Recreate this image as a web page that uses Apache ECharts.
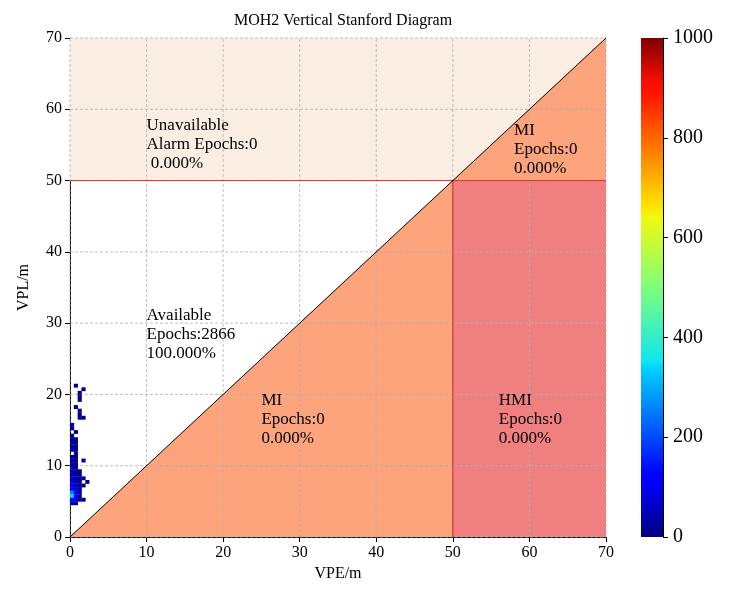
<!DOCTYPE html><html><head><meta charset="utf-8"><script src="https://cdn.jsdelivr.net/npm/echarts@6/dist/echarts.min.js"></script>
<style>body{margin:0;background:#fff}#c{width:737px;height:606px}</style></head><body><div id="c"></div><script>
const title = 'MOH2 Vertical Stanford Diagram';
const axisTicks = [0,10,20,30,40,50,60,70];
const colorTicks = [0,200,400,600,800,1000];
const alarmLimit = 50;
// [VPE bin start, VPL bin start, epoch count] (0.5 m bins)
const cells = [
 [0.5,21,5],[1.5,20.5,5],[1,20,8],[1,19.5,6],[1,19,5],[0.5,18,6],[1,17.5,5],[1,17,6],[1,16.5,8],[1.5,16.5,5],
 [0,15.5,15],[0,15,15],[0.5,14.5,8],[0,14,10],[0,13.5,20],[0.5,13.5,8],[0,13,20],[0.5,13,10],[0,12.5,25],[0.5,12.5,10],[0,12,20],[0.5,12,8],
 [0.5,11.5,8],[0,11,25],[0.5,11,10],[0,10.5,30],[0.5,10.5,8],[1.5,10.5,8],[0,10,35],[0.5,10,12],[0,9.5,40],[0.5,9.5,15],
 [0,9,45],[0.5,9,18],[1,9,8],[0,8.5,50],[0.5,8.5,20],[1,8.5,10],[0,8,60],[0.5,8,25],[1,8,12],[1.5,8,8],
 [0,7.5,70],[0.5,7.5,35],[1,7.5,15],[2,7.5,8],[0,7,90],[0.5,7,50],[1,7,18],[1.5,7,10],[0,6.5,120],[0.5,6.5,70],[1,6.5,20],
 [0,6,260],[0.5,6,130],[1,6,25],[0,5.5,300],[0.5,5.5,150],[1,5.5,20],[0,5,160],[0.5,5,80],[1,5,12],[1.5,5,8],
 [0,4.5,40],[0.5,4.5,20]
];
const jet = [[0,'#00007f'],[0.11,'#0000ff'],[0.125,'#0000ff'],[0.34,'#00d4ff'],[0.35,'#0ce6f0'],[0.5,'#7dff7a'],[0.64,'#f0f90e'],[0.66,'#ffe600'],[0.89,'#ff1300'],[0.91,'#fa0f00'],[1,'#7f0000']];
const F = 'Liberation Serif';
const chart = echarts.init(document.getElementById('c'));
const ax = (name, gap) => ({type:'value', min:0, max:70, interval:10, name, nameLocation:'middle', nameGap:gap,
  nameTextStyle:{fontFamily:F,fontSize:16,color:'#000'}, axisLine:{show:true,lineStyle:{color:'#000'}},
  axisTick:{show:true,length:5,lineStyle:{color:'#000'}},
  axisLabel:{fontFamily:F,fontSize:16,color:'#000'}, splitLine:{show:false}});
const txt = (x,y,s)=>({value:[x,y],s:s});
const poly = (pts,fill)=>(p,api)=>({type:'polygon',shape:{points:pts.map(q=>api.coord(q))},style:{fill:fill}});
chart.setOption({
 title:{text:title,left:338,top:8,textAlign:'center',textStyle:{fontFamily:F,fontSize:16,fontWeight:'normal',color:'#000'}},
 grid:[{left:70,right:131,top:38,bottom:69},{left:641,width:22,top:38,bottom:69}],
 xAxis:[ax('VPE/m',28),{gridIndex:1,type:'category',data:[''],show:false}],
 yAxis:[ax('VPL/m',38),{gridIndex:1,type:'value',min:0,max:1000,interval:200,position:'right',
   axisLine:{show:true,lineStyle:{color:'#000'}},axisTick:{show:true,length:5,lineStyle:{color:'#000'}},
   axisLabel:{fontFamily:F,fontSize:20,color:'#000',margin:10,formatter:v=>String(v)},splitLine:{show:false}}],
 visualMap:{show:false,seriesIndex:3,dimension:2,min:0,max:1000,inRange:{color:jet.map(c=>c[1])}},
 series:[
  {type:'custom',data:[0],z:1,silent:true,renderItem:(p,api)=>({type:'group',children:[
    poly([[0,alarmLimit],[70,alarmLimit],[70,70],[0,70]],'#faeee3')(p,api),
    poly([[0,0],[70,0],[70,70]],'#fda47c')(p,api),
    poly([[alarmLimit,0],[70,0],[70,alarmLimit],[alarmLimit,alarmLimit]],'#f08080')(p,api)]})},
  {type:'custom',data:axisTicks,z:2,silent:true,renderItem:(p,api)=>{const v=api.value(0);
    const a=api.coord([v,0]),b=api.coord([v,70]),c=api.coord([0,v]),d=api.coord([70,v]);
    const st={stroke:'#b0b0b0',lineWidth:0.8,lineDash:[3,2]};
    return {type:'group',children:[{type:'line',shape:{x1:a[0],y1:a[1],x2:b[0],y2:b[1]},style:st},{type:'line',shape:{x1:c[0],y1:c[1],x2:d[0],y2:d[1]},style:st}]};}},
  {type:'custom',data:[0],z:3,silent:true,renderItem:(p,api)=>{const o=api.coord([0,0]),t=api.coord([70,70]),l=api.coord([0,alarmLimit]),r=api.coord([70,alarmLimit]),v=api.coord([alarmLimit,0]),w=api.coord([alarmLimit,alarmLimit]);
    return {type:'group',children:[
     {type:'line',shape:{x1:l[0],y1:l[1],x2:r[0],y2:r[1]},style:{stroke:'#e03030',lineWidth:1}},
     {type:'line',shape:{x1:v[0],y1:v[1],x2:w[0],y2:w[1]},style:{stroke:'#d02020',lineWidth:1}},
     {type:'line',shape:{x1:o[0],y1:o[1],x2:t[0],y2:t[1]},style:{stroke:'#000',lineWidth:1}}]};}},
  {type:'custom',data:cells,z:6,renderItem:(p,api)=>{const a=api.coord([api.value(0),api.value(1)+0.5]),b=api.coord([api.value(0)+0.5,api.value(1)]);
    return {type:'rect',shape:{x:a[0],y:a[1],width:b[0]-a[0]+0.3,height:b[1]-a[1]+0.3},style:{fill:api.visual('color')}};}},
  {type:'custom',z:20,silent:true,data:[
   txt(10,59.0,'Unavailable\nAlarm Epochs:0\n 0.000%'),txt(10,32.4,'Available\nEpochs:2866\n100.000%'),
   txt(58,58.3,'MI\nEpochs:0\n0.000%'),txt(25,20.5,'MI\nEpochs:0\n0.000%'),txt(56,20.5,'HMI\nEpochs:0\n0.000%')],
   encode:{x:0,y:1},
   renderItem:(p,api)=>{const d=p.context;const it=p.dataIndexInside;const pt=api.coord([api.value(0),api.value(1)]);
    const labels=['Unavailable\nAlarm Epochs:0\n 0.000%','Available\nEpochs:2866\n100.000%','MI\nEpochs:0\n0.000%','MI\nEpochs:0\n0.000%','HMI\nEpochs:0\n0.000%'];
    return {type:'text',x:pt[0],y:pt[1],style:{text:labels[p.dataIndex],fill:'#000',font:'17px "Liberation Serif"',lineHeight:19,textAlign:'left',textVerticalAlign:'top'}};}},
  {type:'bar',xAxisIndex:1,yAxisIndex:1,data:[1000],barWidth:'100%',silent:true,
   itemStyle:{color:new echarts.graphic.LinearGradient(0,1,0,0,jet.map(c=>({offset:c[0],color:c[1]})))}}
 ]
});
</script></body></html>
